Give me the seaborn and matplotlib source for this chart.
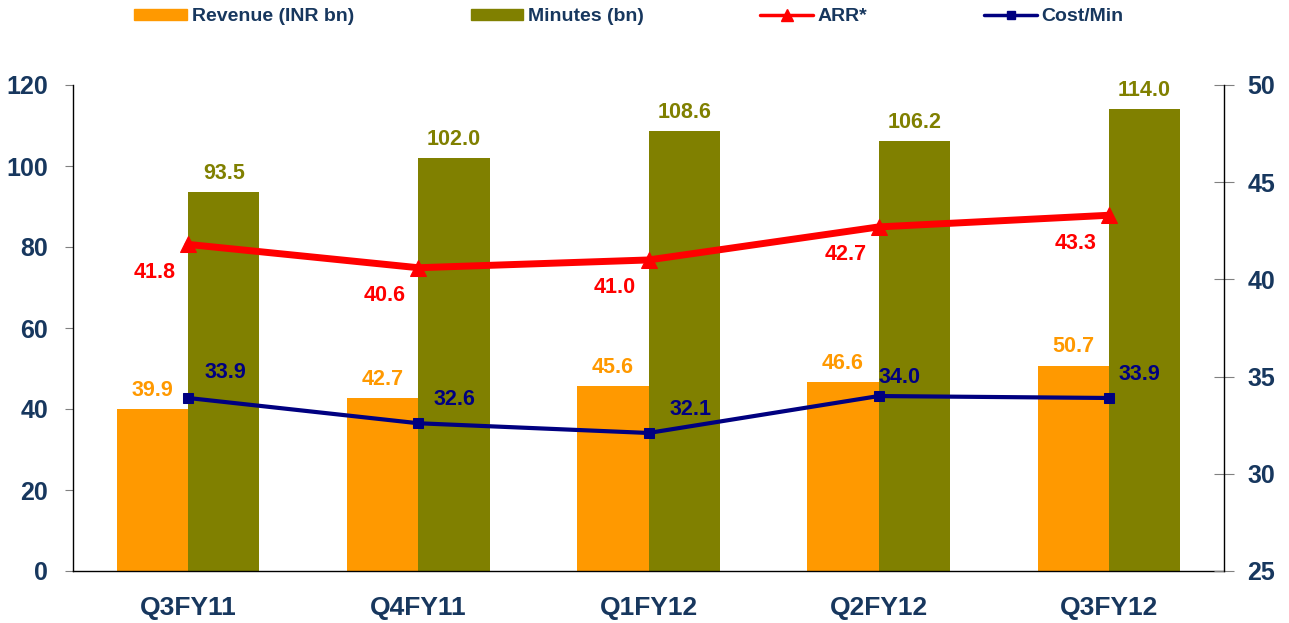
import numpy as np
import pandas as pd
import matplotlib
matplotlib.use('Agg')
import matplotlib.pyplot as plt
import seaborn as sns
from matplotlib.lines import Line2D
from matplotlib.patches import Patch

sns.set_style('white')
plt.rcParams['font.family'] = ['Liberation Sans', 'DejaVu Sans']

# data
quarters = ['Q3FY11', 'Q4FY11', 'Q1FY12', 'Q2FY12', 'Q3FY12']
revenue = [39.9, 42.7, 45.6, 46.6, 50.7]
minutes = [93.5, 102.0, 108.6, 106.2, 114.0]
arr = [41.8, 40.6, 41.0, 42.7, 43.3]
cost_min = [33.9, 32.6, 32.1, 34.0, 33.9]

# label offsets (points) for the Cost/Min labels
cost_offsets = [(27, 18), (26, 17), (30, 17), (15, 13), (22, 17)]

ORANGE = '#FF9900'
OLIVE = '#808000'
RED = '#FF0000'
NAVY = '#000080'
TEXT = '#17375E'
LBL = 15.5

df = pd.DataFrame({
    'quarter': quarters * 2,
    'value': revenue + minutes,
    'series': ['Revenue (INR bn)'] * 5 + ['Minutes (bn)'] * 5,
})

fig = plt.figure(figsize=(12.89, 6.23), dpi=100)
ax = fig.add_axes([73 / 1289, 1 - 571 / 623, (1224 - 73) / 1289, (571 - 85) / 623])

sns.barplot(data=df, x='quarter', y='value', hue='series',
            palette=[ORANGE, OLIVE], width=0.62, saturation=1,
            linewidth=0, edgecolor='none', ax=ax, legend=False)

for cont, col in zip(ax.containers, [ORANGE, OLIVE]):
    ax.bar_label(cont, fmt='%.1f', color=col, fontweight='bold',
                 fontsize=LBL, padding=6)

ax.set_xlim(-0.5, 4.5)
ax.set_ylim(0, 120)
ax.set_yticks(range(0, 121, 20))
ax.set_xlabel('')
ax.set_ylabel('')

ax2 = ax.twinx()
xpos = np.arange(len(quarters))
sns.lineplot(x=xpos, y=arr, ax=ax2, color=RED, linewidth=5, marker='^',
             markersize=11, markeredgecolor=RED)
sns.lineplot(x=xpos, y=cost_min, ax=ax2, color=NAVY, linewidth=3, marker='s',
             markersize=6.5, markeredgecolor=NAVY)
ax2.set_ylim(25, 50)
ax2.set_yticks(range(25, 51, 5))
ax2.set_xlim(-0.5, 4.5)

for x, v in zip(xpos, arr):
    ax2.annotate(f'{v:.1f}', (x, v), xytext=(-24, -20), textcoords='offset points',
                 ha='center', va='center', color=RED, fontweight='bold', fontsize=LBL)
for x, v, off in zip(xpos, cost_min, cost_offsets):
    ax2.annotate(f'{v:.1f}', (x, v), xytext=off, textcoords='offset points',
                 ha='center', va='center', color=NAVY, fontweight='bold', fontsize=LBL)

# axes styling
for a in (ax, ax2):
    a.spines['top'].set_visible(False)
    for s in ('left', 'right', 'bottom'):
        a.spines[s].set_color('black')
        a.spines[s].set_linewidth(1)
ax.spines['right'].set_visible(False)
ax2.spines['left'].set_visible(False)
ax2.spines['bottom'].set_visible(False)

ax.set_xticks(xpos)
ax.set_xticklabels(quarters)
ax.set_xticks(np.arange(-0.5, 4.6, 1), minor=True)
ax.tick_params(axis='x', which='major', length=0, pad=18, labelsize=19,
               labelcolor=TEXT)
ax.tick_params(axis='x', which='minor', length=8, color='#808080', direction='out')
for lbl in ax.get_xticklabels():
    lbl.set_fontweight('bold')

ax.tick_params(axis='y', length=6, color='#808080', direction='out', pad=12,
               labelsize=18, labelcolor=TEXT, left=True)
ax2.tick_params(axis='y', length=14, color='#808080', direction='inout', pad=10,
                labelsize=18, labelcolor=TEXT, right=True)
for lbl in ax.get_yticklabels() + ax2.get_yticklabels():
    lbl.set_fontweight('bold')

handles = [
    Patch(color=ORANGE, label='Revenue (INR bn)'),
    Patch(color=OLIVE, label='Minutes (bn)'),
    Line2D([], [], color=RED, linewidth=2.5, marker='^', markersize=9, label='ARR*'),
    Line2D([], [], color=NAVY, linewidth=2.5, marker='s', markersize=6, label='Cost/Min'),
]
leg = fig.legend(handles=handles, loc='center', bbox_to_anchor=(0.488, 0.973), ncol=4,
                 frameon=False, fontsize=14, handlelength=2.7, handleheight=0.5,
                 columnspacing=6.0, handletextpad=0.25, borderpad=0)
for t in leg.get_texts():
    t.set_color(TEXT)
    t.set_fontweight('bold')

fig.savefig('out.png', dpi=100)
